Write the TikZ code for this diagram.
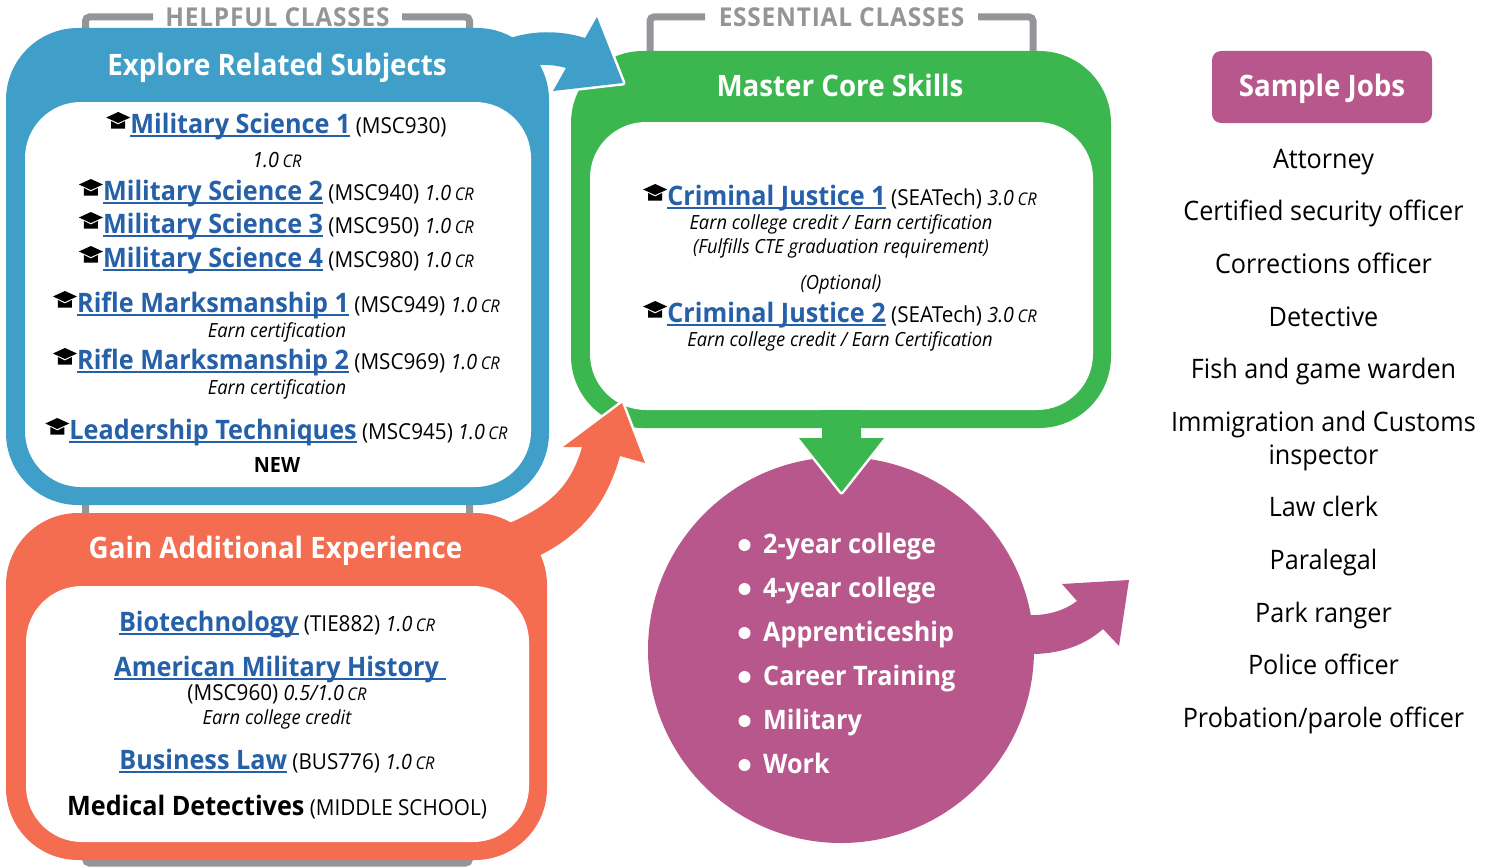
\documentclass[tikz,border=0pt]{standalone}
\usepackage{fontspec}
\setmainfont[FakeStretch=0.94]{Open Sans}
\usetikzlibrary{calc}
\definecolor{exploreblue}{HTML}{3F9FC8}
\definecolor{mastergreen}{HTML}{3CB64E}
\definecolor{gainorange}{HTML}{F46D51}
\definecolor{goalpurple}{HTML}{B8578C}
\definecolor{bracketgray}{HTML}{939598}
\definecolor{linkblue}{HTML}{2560A8}
\newsavebox{\linkbox}
\newcommand{\fs}[1]{\fontsize{#1}{#1}\selectfont}
\newcommand{\lnk}[1]{{\color{linkblue}\bfseries\fs{26.8}\sbox{\linkbox}{#1}\rlap{\rule[-3.5pt]{\wd\linkbox}{1.6pt}}\usebox{\linkbox}}}
\newcommand{\cred}[1]{{\itshape\fs{21}#1\,{\fs{17.5}CR}}}
\newcommand{\code}[1]{{\fs{22}#1}}
\begin{document}
\begin{tikzpicture}[x=1pt,y=-1pt]

\def\rout{72pt}
\def\rin{56pt}

\tikzset{
panel/.style = {inner sep=0pt,minimum width=#1},
inner panel/.style = {panel=#1,fill=white},
bracket/.style = {draw=bracketgray,line width=7pt,rounded corners=4pt},
title/.style = {anchor=base,inner sep=0pt,text=white,font=\bfseries\fs{29.5}},
classes/.style = {anchor=base,inner sep=0pt,text=bracketgray,font=\bfseries\fs{26}\addfontfeature{LetterSpace=3}},
course/.style = {anchor=base,inner sep=0pt,font=\fs{22}},
note/.style = {anchor=base,inner sep=0pt,font=\itshape\fs{19.5}},
goal/.style = {anchor=base west,inner sep=0pt,text=white,font=\bfseries\fs{26.8}},
job/.style = {anchor=base,inner sep=0pt,font=\fs{26.8}},
halo/.style = {draw=white,line width=5pt,line join=round},
pics/gradcap/.style = {
code = {
		\fill (-12,0) -- (0,-5.5) -- (12,0) -- (0,5.5) -- cycle;
		\fill (-7,3.5) -- (0,7) -- (7,3.5) -- (7,11) -- (-7,11) -- cycle;
}
}
}

\useasboundingbox (0,0) rectangle (1491,867);

%brackets behind the panels
\draw[bracket] (153,17) -- (85.5,17) -- (85.5,863) -- (469.5,863) -- (469.5,17) -- (402,17);
\draw[bracket] (705,17) -- (650,17) -- (650,60);
\draw[bracket] (978,17) -- (1033,17) -- (1033,60);

%green panel
\node[panel=540pt,fill=mastergreen,minimum height=377pt,rounded corners=\rout] (master) at (841,239.5) {};
\node[inner panel=503pt,minimum height=288pt,rounded corners=\rin] (masterin) at (841.5,266) {};

%purple circle
\node[circle,fill=goalpurple,inner sep=0pt,minimum size=386pt] (goals) at (841,650) {};

%block arrows
\path[fill=exploreblue,halo] (505,40) .. controls (530,30) and (560,30) .. (585,38) -- (597,17) -- (623,83) -- (553,91) -- (566,68) .. controls (555,65) and (545,64) .. (530,66) -- cycle;
\path[fill=exploreblue] (505,40) .. controls (530,30) and (560,30) .. (585,38) -- (597,17) -- (623,83) -- (553,91) -- (566,68) .. controls (555,65) and (545,64) .. (530,66) -- cycle;

\path[fill=gainorange,halo] (505,525) .. controls (545,508) and (570,490) .. (582,447) -- (563,447) -- (622,403) -- (645,463) -- (620,456) .. controls (605,510) and (575,540) .. (530,560) -- cycle;
\path[fill=gainorange] (505,525) .. controls (545,508) and (570,490) .. (582,447) -- (563,447) -- (622,403) -- (645,463) -- (620,456) .. controls (605,510) and (575,540) .. (530,560) -- cycle;

\path[fill=mastergreen,halo] (822,438) -- (799,438) -- (841.5,492) -- (884,438) -- (861,438) -- cycle;
\path[fill=mastergreen] (822,410) -- (822,438) -- (799,438) -- (841.5,492) -- (884,438) -- (861,438) -- (861,410) -- cycle;

\path[fill=goalpurple] (1025,615) .. controls (1045,616) and (1062,612) .. (1077,601) -- (1062,584) -- (1129,580) -- (1119,646) -- (1103,629) .. controls (1085,645) and (1060,655) .. (1025,654) -- cycle;

%blue and orange panels
\node[panel=543pt,fill=exploreblue,minimum height=477pt,rounded corners=\rout] (explore) at (277.5,266.5) {};
\node[inner panel=506pt,minimum height=385pt,rounded corners=\rin] (explorein) at (278,294.5) {};
\node[panel=541pt,fill=gainorange,minimum height=347pt,rounded corners=\rout] (gain) at (276.5,686.5) {};
\node[inner panel=503pt,minimum height=256pt,rounded corners=\rin] (gainin) at (277.5,714) {};

\node[rectangle,fill=goalpurple,inner sep=0pt,minimum width=220pt,minimum height=72pt,rounded corners=9pt] (jobs) at (1322,87) {};

%titles
\node[classes] (helpful) at (277.5,26.5) {HELPFUL CLASSES};
\node[classes] (essential) at (841.5,26.5) {ESSENTIAL CLASSES};
\node[title] (exploretitle) at (277,75.5) {Explore Related Subjects};
\node[title] (mastertitle) at (840,96.5) {Master Core Skills};
\node[title] (gaintitle) at (275.5,558.5) {Gain Additional Experience};
\node[title] (jobstitle) at (1322,96.5) {Sample Jobs};

%helpful classes
\node[course] (msa) at (288.5,133.5) {\lnk{Military Science 1} \code{(MSC930)}};
\node[course] (msacr) at (277,167) {\cred{1.0}};
\node[course] (msb) at (288.5,200.5) {\lnk{Military Science 2} \code{(MSC940)} \cred{1.0}};
\node[course] (msc) at (288.5,233.5) {\lnk{Military Science 3} \code{(MSC950)} \cred{1.0}};
\node[course] (msd) at (288.5,267.5) {\lnk{Military Science 4} \code{(MSC980)} \cred{1.0}};
\node[course] (rma) at (288.5,312.5) {\lnk{Rifle Marksmanship 1} \code{(MSC949)} \cred{1.0}};
\node[note] (rmanote) at (277,337) {Earn certification};
\node[course] (rmb) at (288.5,369.5) {\lnk{Rifle Marksmanship 2} \code{(MSC969)} \cred{1.0}};
\node[note] (rmbnote) at (277,394) {Earn certification};
\node[course] (lead) at (288.5,439.5) {\lnk{Leadership Techniques} \code{(MSC945)} \cred{1.0}};
\node[course,font=\bfseries\fs{21}] (leadnew) at (277,472) {NEW};

%essential classes
\node[course] (cja) at (852,205.5) {\lnk{Criminal Justice 1} \code{(SEATech)} \cred{3.0}};
\node[note] (cjanote) at (841,229) {Earn college credit / Earn certification};
\node[note] (cjareq) at (841,253) {(Fulfills CTE graduation requirement)};
\node[note] (cjbopt) at (841,289) {(Optional)};
\node[course] (cjb) at (852,322.5) {\lnk{Criminal Justice 2} \code{(SEATech)} \cred{3.0}};
\node[note] (cjbnote) at (840,346) {Earn college credit / Earn Certification};

%caps next to the links
\foreach \n in {msa,msb,msc,msd,rma,rmb,lead,cja,cjb}
	\pic at ($(\n.base west)+(-12,-16)$) {gradcap};

%additional experience
\node[course] (bio) at (277,631.5) {\lnk{Biotechnology} \code{(TIE882)} \cred{1.0}};
\node[course] (amh) at (280,676.5) {\lnk{American Military History\ }};
\node[course] (amhcr) at (277,700) {\code{(MSC960)} \cred{0.5/1.0}};
\node[note] (amhnote) at (277,724) {Earn college credit};
\node[course] (law) at (277,769.5) {\lnk{Business Law} \code{(BUS776)} \cred{1.0}};
\node[course] (med) at (277,815.5) {{\bfseries\fs{26.8}Medical Detectives} \code{(MIDDLE SCHOOL)}};

%after high school
\foreach \t [count=\i] in {2-year college,4-year college,Apprenticeship,Career Training,Military,Work}{
	\node[goal] (goal\i) at (763,{509.5+44*\i}) {\t};
	\node[circle,fill=white,inner sep=0pt,minimum size=12pt] (dot\i) at (744.5,{501+44*\i}) {};
}

%jobs
\foreach \y/\t [count=\i] in {168.5/Attorney,220.5/Certified security officer,273.5/Corrections officer,326.5/Detective,378.5/Fish and game warden,431.5/Immigration and Customs,464.5/inspector,516.5/Law clerk,569.5/Paralegal,622.5/Park ranger,674.5/Police officer,727.5/{Probation/parole officer}}
	\node[job] (job\i) at (1323.5,\y) {\t};

\end{tikzpicture}
\end{document}
